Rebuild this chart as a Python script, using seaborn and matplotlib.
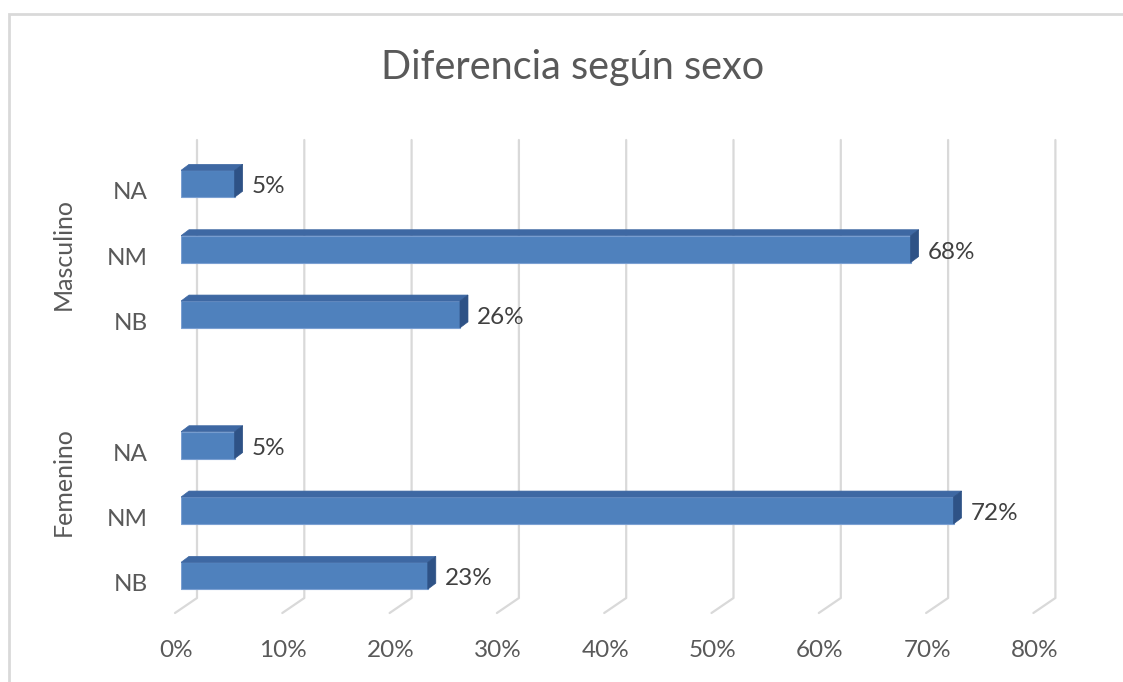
import pandas as pd
import matplotlib.pyplot as plt
import matplotlib.transforms as mtransforms
from matplotlib.patches import Polygon, Rectangle
import seaborn as sns

# Data
sexos = ["Masculino", "Masculino", "Masculino", "Femenino", "Femenino", "Femenino"]
niveles = ["NA", "NM", "NB", "NA", "NM", "NB"]
valores = [5, 68, 26, 5, 72, 23]
ticks = [0, 10, 20, 30, 40, 50, 60, 70, 80]

data = pd.DataFrame({"Sexo": sexos, "Nivel": niveles, "Valor": valores})
data["Fila"] = data["Sexo"] + " " + data["Nivel"]
orden = list(data["Fila"][:3]) + [""] + list(data["Fila"][3:])

sns.set_theme(style="white")
plt.rcParams["font.family"] = ["Lato", "DejaVu Sans"]

W, H = 1123, 682
fs = 17.5
fig = plt.figure(figsize=(W / 100, H / 100), dpi=100)
ax = fig.add_axes([181 / W, 84 / H, 858.4 / W, 458 / H])

sns.barplot(data=data, x="Valor", y="Fila", order=orden, orient="h",
            color="#4F81BD", saturation=1, width=0.41, edgecolor="#7BA0D2",
            linewidth=0.8, ax=ax, zorder=3)
ax.set_xlim(0, 80)
ax.set_ylim(6.34, -0.67)
for s in ax.spines.values():
    s.set_visible(False)
ax.set_xlabel("")
ax.set_ylabel("")


def shift(x, y, dx, dy):
    d = ax.transData.transform((x, y)) + (dx, dy)
    return ax.transData.inverted().transform(d)


# 3D-like faces of the bars
depth = (8, 6)
for p in list(ax.patches):
    x0, y0, w, h = p.get_x(), p.get_y(), p.get_width(), p.get_height()
    if w <= 0:
        continue
    top = [(x0, y0), (x0 + w, y0), shift(x0 + w, y0, *depth), shift(x0, y0, *depth)]
    side = [(x0 + w, y0), shift(x0 + w, y0, *depth),
            shift(x0 + w, y0 + h, *depth), (x0 + w, y0 + h)]
    ax.add_patch(Polygon(top, closed=True, facecolor="#3E68A3",
                         edgecolor="#3E68A3", lw=0.5, zorder=4))
    ax.add_patch(Polygon(side, closed=True, facecolor="#2E5286",
                         edgecolor="#2E5286", lw=0.5, zorder=4))

# back wall gridlines and floor lines
ylo, yhi = ax.get_ylim()
for t in ticks:
    a = shift(t, yhi, 16, 0)
    b = shift(t, ylo, 16, 0)
    c = shift(t, ylo, -6, -15)
    ax.plot([a[0], b[0], c[0]], [a[1], b[1], c[1]], color="#D9D9D9",
            lw=1.6, zorder=0, clip_on=False)

# data labels
for fila, v in zip(data["Fila"], data["Valor"]):
    ax.annotate(f"{v}%", (v, orden.index(fila)), xytext=(17, -3),
                textcoords="offset pixels", va="center", ha="left",
                fontsize=fs, color="#404040", zorder=5)

# ticks
ax.set_xticks(ticks)
ax.set_xticklabels([f"{t}%" for t in ticks], fontsize=fs, color="#595959")
ax.tick_params(axis="x", length=0, pad=30)
off = mtransforms.ScaledTranslation(-5 / 100, 0, fig.dpi_scale_trans)
for lab in ax.get_xticklabels():
    lab.set_transform(lab.get_transform() + off)

ax.set_yticks(range(len(orden)))
ax.set_yticklabels(niveles[:3] + [""] + niveles[3:], fontsize=fs, color="#595959")
ax.tick_params(axis="y", length=0, pad=24)
offy = mtransforms.ScaledTranslation(0, -7 / 100, fig.dpi_scale_trans)
for lab in ax.get_yticklabels():
    lab.set_transform(lab.get_transform() + offy)

# group labels
fig.text(63 / W, 1 - 254 / H, "Masculino", rotation=90, ha="center",
         va="center", fontsize=fs + 0.5, color="#595959")
fig.text(63 / W, 1 - 482 / H, "Femenino", rotation=90, ha="center",
         va="center", fontsize=fs + 0.5, color="#595959")

fig.text(573 / W, 1 - 68 / H, "Diferencia según sexo", ha="center",
         va="center", fontsize=28.5, color="#595959")

fig.add_artist(Rectangle((9 / W, -0.1), 1.2, (H - 14) / H + 0.1,
                         transform=fig.transFigure, fill=False,
                         edgecolor="#D9D9D9", lw=2))

fig.savefig("out.png", dpi=100)
